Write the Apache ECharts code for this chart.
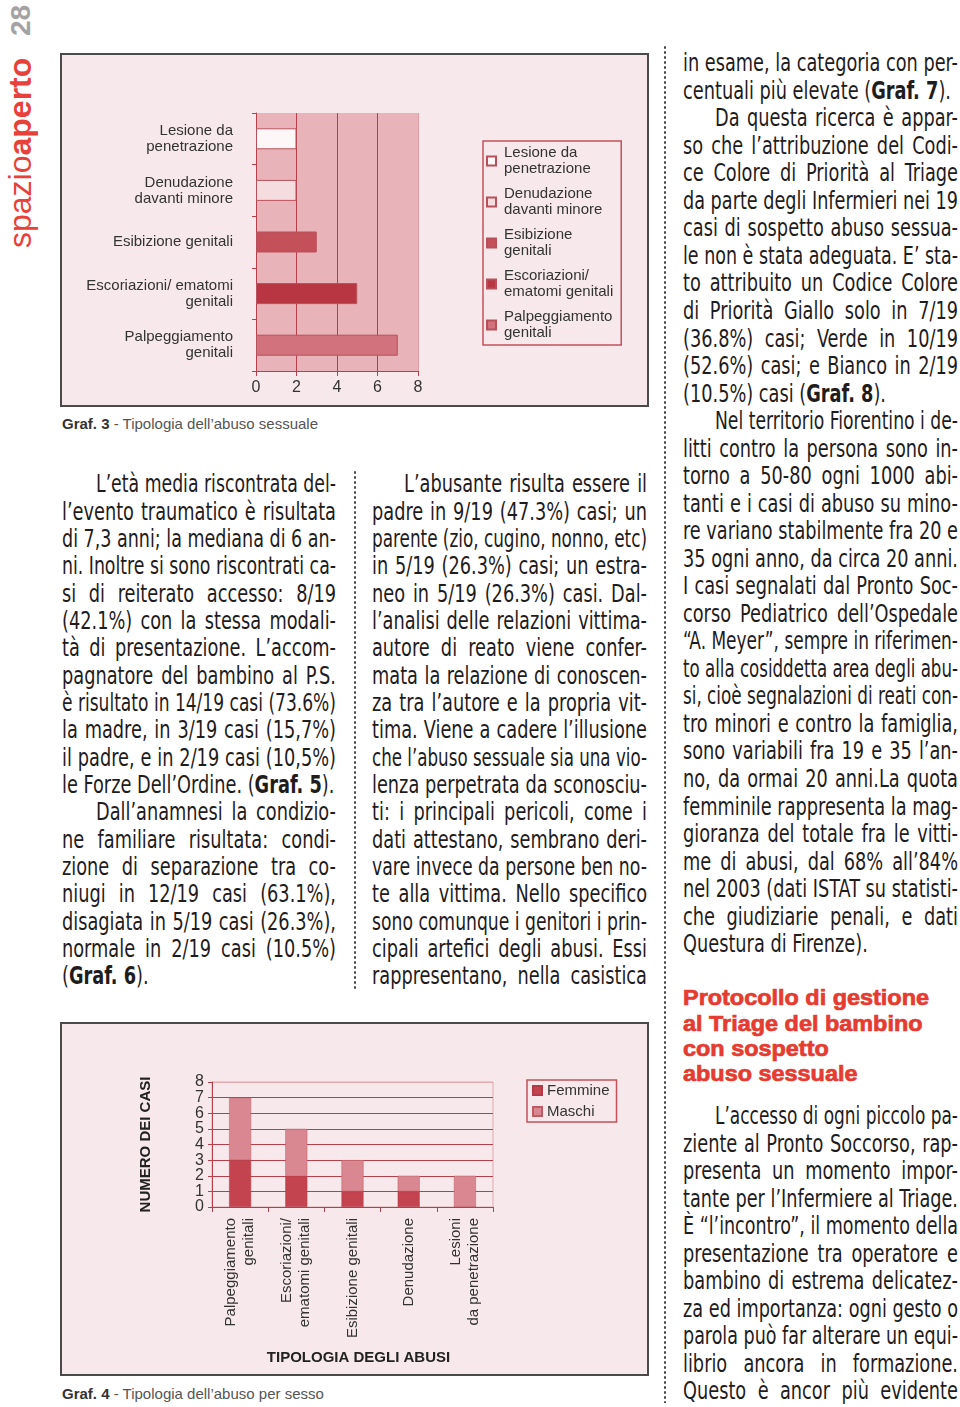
<!DOCTYPE html>
<html><head><meta charset="utf-8">
<script src="https://cdn.jsdelivr.net/npm/echarts@6/dist/echarts.min.js"></script>
<style>
html,body{margin:0;padding:0;background:#fff;}
body{width:960px;height:1407px;position:relative;overflow:hidden;font-family:"Liberation Sans",Arial,sans-serif;}
.box{position:absolute;border:2px solid #4a4a4a;background:#f7e9eb;box-sizing:content-box;}
.chart{position:absolute;left:0;top:0;width:585px;height:350px;}
.line{position:absolute;white-space:nowrap;transform-origin:0 50%;color:#1f1c1d;}
.cap{position:absolute;left:62px;font-size:15px;color:#555;white-space:nowrap;}
.cap b{color:#333;}
.dots{position:absolute;width:4px;background-image:radial-gradient(circle,#444 1px,transparent 1.4px);background-size:4px 5px;}
.rot{position:absolute;transform-origin:0 0;transform:rotate(-90deg);white-space:nowrap;}
</style></head>
<body>
<div class="rot" style="left:4px;top:36px;width:60px;height:34px;line-height:34px;font-size:28px;font-weight:bold;color:#a3a3a3;">28</div>
<div class="rot" style="left:2px;top:248px;width:220px;height:36px;line-height:36px;font-size:32px;color:#e8413a;">spazio<b>aperto</b></div>

<div class="box" style="left:60px;top:53px;width:585px;height:350px;"><div id="c1" class="chart"></div></div>
<div class="cap" style="top:415px;"><b>Graf. 3</b> - Tipologia dell’abuso sessuale</div>

<div class="box" style="left:60px;top:1022px;width:585px;height:350px;"><div id="c2" class="chart"></div></div>
<div class="cap" style="top:1385px;"><b>Graf. 4</b> - Tipologia dell’abuso per sesso</div>

<div class="dots" style="left:353px;top:470px;height:520px;"></div>
<div class="dots" style="left:663px;top:45px;height:1358px;"></div>

<script>
// ---------- chart data ----------
const abuseCategories = ['Lesione da\npenetrazione', 'Denudazione\ndavanti minore', 'Esibizione genitali', 'Escoriazioni/ ematomi\ngenitali', 'Palpeggiamento\ngenitali'];
const abuseLegend = ['Lesione da\npenetrazione', 'Denudazione\ndavanti minore', 'Esibizione\ngenitali', 'Escoriazioni/\nematomi genitali', 'Palpeggiamento\ngenitali'];
const abuseCounts = [2, 2, 3, 5, 7];
const abuseAxisMin = 0, abuseAxisMax = 8, abuseAxisStep = 2;

const sexCategories = ['Palpeggiamento\ngenitali', 'Escoriazioni/\nematomi genitali', 'Esibizione genitali', 'Denudazione', 'Lesioni\nda penetrazione'];
const sexSeriesNames = ['Femmine', 'Maschi'];
const femmine = [3, 2, 1, 1, 0];
const maschi = [4, 3, 2, 1, 2];
const sexAxisMin = 0, sexAxisMax = 8, sexAxisStep = 1;
const sexTickLabels = ['0', '1', '2', '3', '4', '5', '6', '7', '8'];

// ---------- styles ----------
const FONT = '"Liberation Sans", Arial, sans-serif';
const RED = '#b5404c';
const abuseColors = ['#fdf7f7', '#f5dcdf', '#c4505a', '#b83642', '#d1727c'];
const sexColors = ['#c3434f', '#d98790'];

const c1 = echarts.init(document.getElementById('c1'), null, {renderer: 'canvas'});
c1.setOption({
  animation: false,
  textStyle: {fontFamily: FONT},
  grid: {show: true, backgroundColor: '#e8b4b9', borderWidth: 0, left: 194, top: 58, width: 162, height: 258, outerBoundsMode: 'none'},
  legend: {
    orient: 'vertical', left: 421, top: 86, itemWidth: 9, itemHeight: 9, itemGap: 9,
    padding: [4, 8, 4, 3], borderColor: '#c4505a', borderWidth: 1.5,
    icon: 'rect', selectedMode: false,
    textStyle: {fontSize: 15, lineHeight: 16, color: '#333', fontFamily: FONT, padding: [0, 0, 0, 3]},
    data: abuseLegend
  },
  xAxis: {
    type: 'value', min: abuseAxisMin, max: abuseAxisMax, interval: abuseAxisStep,
    axisLine: {show: true, lineStyle: {color: RED, width: 1}},
    axisTick: {show: true, length: 5, lineStyle: {color: RED}},
    axisLabel: {fontSize: 16, color: '#333', margin: 9, fontFamily: FONT, showMinLabel: true, showMaxLabel: true},
    splitLine: {show: true, lineStyle: {color: [RED, RED, RED, RED, '#dc9ea4'], width: 1}}
  },
  yAxis: {
    type: 'category', data: abuseCategories, inverse: true,
    axisLine: {show: true, lineStyle: {color: RED, width: 1}},
    axisTick: {show: true, length: 4, lineStyle: {color: RED}},
    axisLabel: {fontSize: 15, lineHeight: 16, color: '#333', margin: 23, fontFamily: FONT},
    splitLine: {show: false}
  },
  series: abuseLegend.map((name, i) => ({
    name: name, type: 'bar', stack: 'one', barWidth: 21,
    data: abuseCounts.map((v, j) => j === i ? v : '-'),
    itemStyle: {color: abuseColors[i], borderColor: '#b8505b', borderWidth: 1}
  }))
});

const c2 = echarts.init(document.getElementById('c2'), null, {renderer: 'canvas'});
c2.setOption({
  animation: false,
  textStyle: {fontFamily: FONT},
  grid: {show: true, backgroundColor: 'transparent', borderColor: '#e2a9ae', borderWidth: 1, left: 150, top: 58, width: 281, height: 125, outerBoundsMode: 'none'},
  legend: {
    orient: 'vertical', left: 465, top: 56, itemWidth: 9, itemHeight: 9, itemGap: 6,
    padding: [3, 7, 3, 5], borderColor: '#c4505a', borderWidth: 1.5,
    icon: 'rect', selectedMode: false,
    textStyle: {fontSize: 15, color: '#333', fontFamily: FONT},
    data: sexSeriesNames
  },
  xAxis: {
    type: 'category', data: sexCategories,
    name: 'TIPOLOGIA DEGLI ABUSI', nameLocation: 'middle', nameGap: 143,
    nameTextStyle: {fontSize: 15, fontWeight: 'bold', color: '#222', fontFamily: FONT, padding: [0, 0, 0, 12]},
    axisLine: {show: true, lineStyle: {color: RED, width: 1}},
    axisTick: {show: true, length: 5, lineStyle: {color: RED}},
    axisLabel: {rotate: 90, fontSize: 15, lineHeight: 18, color: '#333', margin: 11, fontFamily: FONT, interval: 0}
  },
  yAxis: [
    {
      type: 'value', min: sexAxisMin, max: sexAxisMax, interval: sexAxisStep,
      name: 'NUMERO DEI CASI', nameLocation: 'middle', nameRotate: 90, nameGap: 59,
      nameTextStyle: {fontSize: 15, fontWeight: 'bold', color: '#222', fontFamily: FONT},
      axisLine: {show: true, lineStyle: {color: RED, width: 1}},
      axisTick: {show: true, length: 4, lineStyle: {color: RED}},
      axisLabel: {show: false},
      splitLine: {show: true, lineStyle: {color: [RED, RED, RED, RED, RED, RED, RED, RED, '#e2a9ae'], width: 1}}
    },
    {
      type: 'category', data: sexTickLabels, boundaryGap: false, position: 'left', offset: 0,
      axisLine: {show: false}, axisTick: {show: false}, splitLine: {show: false},
      axisLabel: {interval: 0, fontSize: 16, color: '#333', margin: 8, fontFamily: FONT}
    }
  ],
  series: [
    {name: sexSeriesNames[0], type: 'bar', stack: 'sex', barWidth: 22, data: femmine, yAxisIndex: 0,
     itemStyle: {color: sexColors[0], borderColor: '#b53a47', borderWidth: 0.5}},
    {name: sexSeriesNames[1], type: 'bar', stack: 'sex', barWidth: 22, data: maschi, yAxisIndex: 0,
     itemStyle: {color: sexColors[1], borderColor: '#c05a65', borderWidth: 0.5}}
  ]
});

// ---------- body text ----------
const col1 = [
  '>L’età media riscontrata del-',
  'l’evento traumatico è risultata',
  'di 7,3 anni; la mediana di 6 an-',
  'ni. Inoltre si sono riscontrati ca-',
  'si di reiterato accesso: 8/19',
  '(42.1%) con la stessa modali-',
  'tà di presentazione. L’accom-',
  'pagnatore del bambino al P.S.',
  'è risultato in 14/19 casi (73.6%)',
  'la madre, in 3/19 casi (15,7%)',
  'il padre, e in 2/19 casi (10,5%)',
  'le Forze Dell’Ordine. (**Graf. 5**).|',
  '>Dall’anamnesi la condizio-',
  'ne familiare risultata: condi-',
  'zione di separazione tra co-',
  'niugi in 12/19 casi (63.1%),',
  'disagiata in 5/19 casi (26.3%),',
  'normale in 2/19 casi (10.5%)',
  '(**Graf. 6**).|'
];
const col2 = [
  '>L’abusante risulta essere il',
  'padre in 9/19 (47.3%) casi; un',
  'parente (zio, cugino, nonno, etc)',
  'in 5/19 (26.3%) casi; un estra-',
  'neo in 5/19 (26.3%) casi. Dal-',
  'l’analisi delle relazioni vittima-',
  'autore di reato viene confer-',
  'mata la relazione di conoscen-',
  'za tra l’autore e la propria vit-',
  'tima. Viene a cadere l’illusione',
  'che l’abuso sessuale sia una vio-',
  'lenza perpetrata da sconosciu-',
  'ti: i principali pericoli, come i',
  'dati attestano, sembrano deri-',
  'vare invece da persone ben no-',
  'te alla vittima. Nello specifico',
  'sono comunque i genitori i prin-',
  'cipali artefici degli abusi. Essi',
  'rappresentano, nella casistica'
];
const col3 = [
  'in esame, la categoria con per-',
  'centuali più elevate (**Graf. 7**).|',
  '>Da questa ricerca è appar-',
  'so che l’attribuzione del Codi-',
  'ce Colore di Priorità al Triage',
  'da parte degli Infermieri nei 19',
  'casi di sospetto abuso sessua-',
  'le non è stata adeguata. E’ sta-',
  'to attribuito un Codice Colore',
  'di Priorità Giallo solo in 7/19',
  '(36.8%) casi; Verde in 10/19',
  '(52.6%) casi; e Bianco in 2/19',
  '(10.5%) casi (**Graf. 8**).|',
  '>Nel territorio Fiorentino i de-',
  'litti contro la persona sono in-',
  'torno a 50-80 ogni 1000 abi-',
  'tanti e i casi di abuso su mino-',
  're variano stabilmente fra 20 e',
  '35 ogni anno, da circa 20 anni.',
  'I casi segnalati dal Pronto Soc-',
  'corso Pediatrico dell’Ospedale',
  '“A. Meyer”, sempre in riferimen-',
  'to alla cosiddetta area degli abu-',
  'si, cioè segnalazioni di reati con-',
  'tro minori e contro la famiglia,',
  'sono variabili fra 19 e 35 l’an-',
  'no, da ormai 20 anni.La quota',
  'femminile rappresenta la mag-',
  'gioranza del totale fra le vitti-',
  'me di abusi, dal 68% all’84%',
  'nel 2003 (dati ISTAT su statisti-',
  'che giudiziarie penali, e dati',
  'Questura di Firenze).|'
];
const heading = ['Protocollo di gestione', 'al Triage del bambino', 'con sospetto', 'abuso sessuale'];
const col3b = [
  '>L’accesso di ogni piccolo pa-',
  'ziente al Pronto Soccorso, rap-',
  'presenta un momento impor-',
  'tante per l’Infermiere al Triage.',
  'È “l’incontro”, il momento della',
  'presentazione tra operatore e',
  'bambino di estrema delicatez-',
  'za ed importanza: ogni gesto o',
  'parola può far alterare un equi-',
  'librio ancora in formazione.',
  'Questo è ancor più evidente'
];

const BODY_FONT = '"Liberation Sans Narrow","DejaVu Sans Condensed","Open Sans",sans-serif';
const BODY_SIZE = 25;
const allLines = [];
function md(s){ return s.replace(/\*\*(.+?)\*\*/g, '<b>$1</b>'); }
function block(lines, x, y0, pitch, width, indent){
  lines.forEach((raw, i) => {
    let s = raw, ind = false, last = false;
    if (s.startsWith('>')) { ind = true; s = s.slice(1); }
    if (s.endsWith('|')) { last = true; s = s.slice(0, -1); }
    const el = document.createElement('div');
    el.className = 'line';
    el.innerHTML = md(s);
    el.style.fontFamily = BODY_FONT;
    el.style.fontSize = BODY_SIZE + 'px';
    el.style.lineHeight = pitch + 'px';
    el.style.height = pitch + 'px';
    el.style.left = (x + (ind ? indent : 0)) + 'px';
    el.style.top = (y0 + i * pitch - pitch / 2) + 'px';
    document.body.appendChild(el);
    allLines.push({el, W: width - (ind ? indent : 0), last});
  });
}
block(col1, 62, 484, 27.33, 274, 34);
block(col2, 372, 484, 27.33, 275, 32);
block(col3, 683, 63, 27.53, 275, 32);
block(col3b, 683, 1116, 27.5, 275, 32);

allLines.forEach(o => { o.w = o.el.getBoundingClientRect().width; });
const ratios = allLines.filter(o => !o.last).map(o => o.W / o.w).sort((a, b) => a - b);
const c = Math.min(1, ratios[Math.floor(ratios.length * 0.3)]);
allLines.forEach(o => {
  let s = c;
  if (!o.last) s = Math.min(c, o.W / o.w);
  o.el.style.transform = 'scaleX(' + s + ')';
  if (!o.last) {
    const n = (o.el.textContent.match(/ /g) || []).length;
    const extra = (o.W / s - o.w) / Math.max(n, 1);
    if (n > 0 && extra > 0.01) o.el.style.wordSpacing = extra + 'px';
  }
});

// heading
const hEls = heading.map((t, i) => {
  const el = document.createElement('div');
  el.className = 'line';
  el.textContent = t;
  el.style.fontFamily = FONT;
  el.style.fontWeight = 'bold';
  el.style.fontSize = '22px';
  el.style.color = '#e53b30';
  el.style.webkitTextStroke = '0.7px #e53b30';
  el.style.lineHeight = '25.3px';
  el.style.left = '683px';
  el.style.top = (998 + i * 25.3 - 12.65) + 'px';
  document.body.appendChild(el);
  return el;
});
const hs = 246 / hEls[0].getBoundingClientRect().width;
hEls.forEach(el => { el.style.transform = 'scaleX(' + hs + ')'; });
</script>
</body></html>
